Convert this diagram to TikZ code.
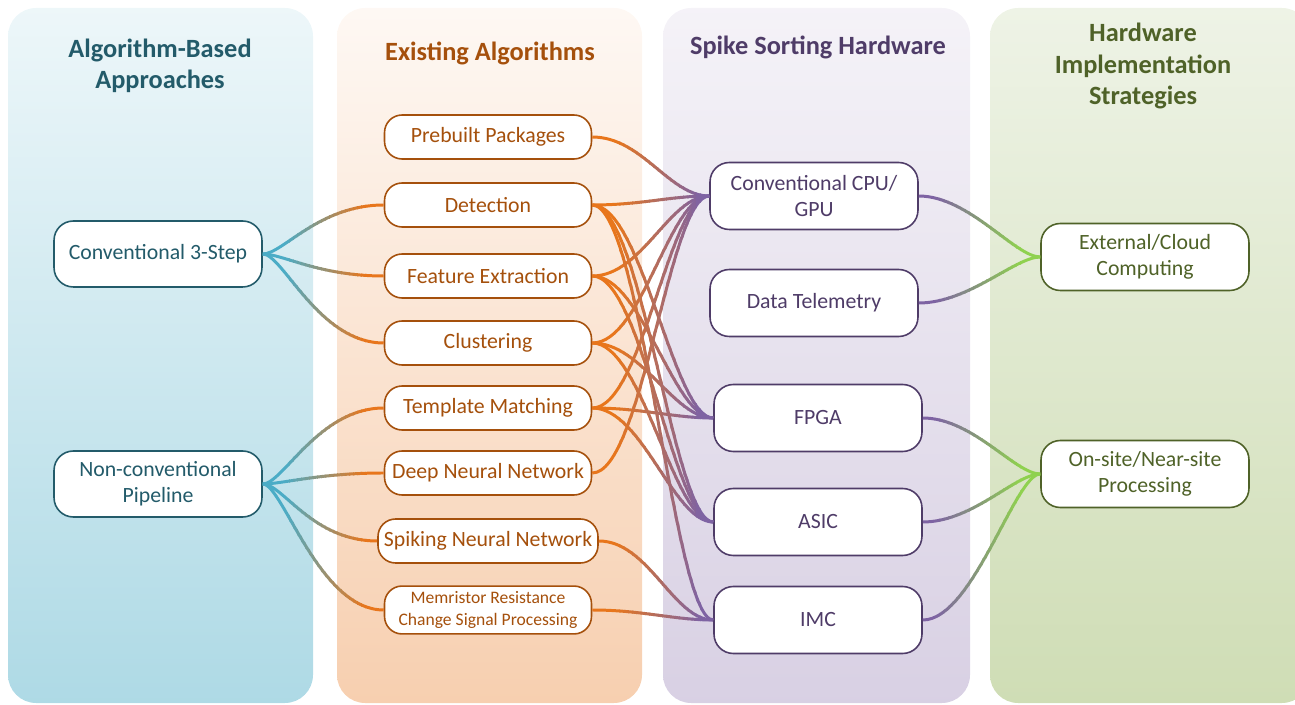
\documentclass[tikz,border=0pt]{standalone}
\usepackage{fontspec}
\setmainfont{Carlito}
\definecolor{tealdark}{HTML}{235B6A}
\definecolor{tealline}{HTML}{4BACC6}
\definecolor{orangedark}{HTML}{A5500C}
\definecolor{orangeline}{HTML}{E8761C}
\definecolor{purpledark}{HTML}{4F3C68}
\definecolor{purpleline}{HTML}{7E63A3}
\definecolor{greendark}{HTML}{4F6228}
\definecolor{greenline}{HTML}{8FD14F}
\definecolor{greentop}{HTML}{EEF3E6}
\definecolor{greenbot}{HTML}{CFDDB5}
% fading links: #1,#2 x range of the fade, #3 from colour, #4 to colour,
% #5,#6 curve arms at source and target, #7 links
\newcommand{\fadelinks}[7]{%
	\begin{scope}
		\clip (0,0) rectangle (#1,705);
		\foreach \a/\b in {#7} \draw[link={#5}{#6}, draw=#3] (\a.east) to (\b.west);
	\end{scope}
	\foreach \k in {0,...,19} {
		\pgfmathsetmacro{\xa}{#1+(#2-#1)*\k/20}
		\pgfmathsetmacro{\xb}{#1+(#2-#1)*(\k+1)/20+1}
		\pgfmathsetmacro{\pc}{97.5-5*\k}
		\begin{scope}
			\clip (\xa,0) rectangle (\xb,705);
			\foreach \a/\b in {#7} \draw[link={#5}{#6}, draw={#3!\pc!#4}] (\a.east) to (\b.west);
		\end{scope}
	}
	\begin{scope}
		\clip (#2,0) rectangle (1300,705);
		\foreach \a/\b in {#7} \draw[link={#5}{#6}, draw=#4] (\a.east) to (\b.west);
	\end{scope}
}

\begin{document}
\begin{tikzpicture}[x=0.02cm, y=-0.02cm,
	title/.style={font=\fontsize{15}{18}\selectfont\bfseries, align=center},
	box/.style={fill=white, line width=0.9pt, align=center, font=\fontsize{12.4}{15}\selectfont},
	approach/.style={box, draw=tealdark, text=tealdark, rounded corners=11pt, minimum width=4.16cm, minimum height=1.32cm},
	algo/.style={box, draw=orangedark, text=orangedark, rounded corners=10pt, minimum width=4.14cm, minimum height=0.88cm},
	hw/.style={box, draw=purpledark, text=purpledark, rounded corners=11pt, minimum width=4.16cm, minimum height=1.34cm},
	strat/.style={box, draw=greendark, text=greendark, rounded corners=11pt, minimum width=4.16cm, minimum height=1.34cm},
	link/.style 2 args={line width=1.7pt, to path={.. controls +(#1,0) and +(-#2,0) .. (\tikztotarget)}}]
	\useasboundingbox (0,0) rectangle (1295,705);

	% columns
	\shade[top color=tealline!10, bottom color=tealline!45, rounded corners=16pt] (8,8) rectangle (313,703);
	\shade[top color=orangeline!5, bottom color=orangeline!35, rounded corners=16pt] (337,8) rectangle (642,703);
	\shade[top color=purpleline!8, bottom color=purpleline!30, rounded corners=16pt] (663,8) rectangle (970,703);
	\shade[top color=greentop, bottom color=greenbot, rounded corners=16pt] (990,8) rectangle (1310,703);

	\node (T1) at (160,66)	[title, text=tealdark]	{Algorithm-Based\\Approaches};
	\node (T2) at (490,53)	[title, text=orangedark]	{Existing Algorithms};
	\node (T3) at (818,47)	[title, text=purpledark]	{Spike Sorting Hardware};
	\node (T4) at (1143,66)	[title, text=greendark]	{Hardware\\Implementation\\Strategies};

	\node (C3S) at (158,254)	[approach]	{Conventional 3-Step};
	\node (NCP) at (158,484)	[approach]	{Non-conventional\\Pipeline};

	\node (PRE) at (488,137)	[algo]	{Prebuilt Packages};
	\node (DET) at (488,205)	[algo]	{Detection};
	\node (FEX) at (488,276)	[algo]	{Feature Extraction};
	\node (CLU) at (488,343)	[algo]	{Clustering};
	\node (TMP) at (488,408)	[algo]	{Template Matching};
	\node (DNN) at (488,473)	[algo]	{Deep Neural Network};
	\node (SNN) at (488,541)	[algo]	{Spiking Neural Network};
	\node (MEM) at (488,610)	[algo, font=\fontsize{10}{12}\selectfont]	{Memristor Resistance\\Change Signal Processing};

	\node (CPU) at (814,196)	[hw]	{Conventional CPU/\\GPU};
	\node (TEL) at (814,303)	[hw]	{Data Telemetry};
	\node (FPGA) at (818,418)	[hw]	{FPGA};
	\node (ASIC) at (818,522)	[hw]	{ASIC};
	\node (IMC) at (818,620)	[hw]	{IMC};

	\node (EXT) at (1145,257)	[strat]	{External/Cloud\\Computing};
	\node (ONS) at (1145,474)	[strat]	{On-site/Near-site\\Processing};

	\fadelinks{285}{365}{tealline}{orangeline}{20}{65}{C3S/DET, C3S/FEX, C3S/CLU, NCP/TMP, NCP/DNN, NCP/SNN, NCP/MEM}
	\fadelinks{615}{700}{orangeline}{purpleline}{50}{40}{PRE/CPU, DET/CPU, FEX/CPU, CLU/CPU, TMP/CPU, DNN/CPU, DET/FPGA, FEX/FPGA, CLU/FPGA, TMP/FPGA, DET/ASIC, FEX/ASIC, CLU/ASIC, TMP/ASIC, DET/IMC, SNN/IMC, MEM/IMC}
	\fadelinks{935}{1020}{purpleline}{greenline}{50}{25}{CPU/EXT, TEL/EXT, FPGA/ONS, ASIC/ONS, IMC/ONS}
\end{tikzpicture}
\end{document}
